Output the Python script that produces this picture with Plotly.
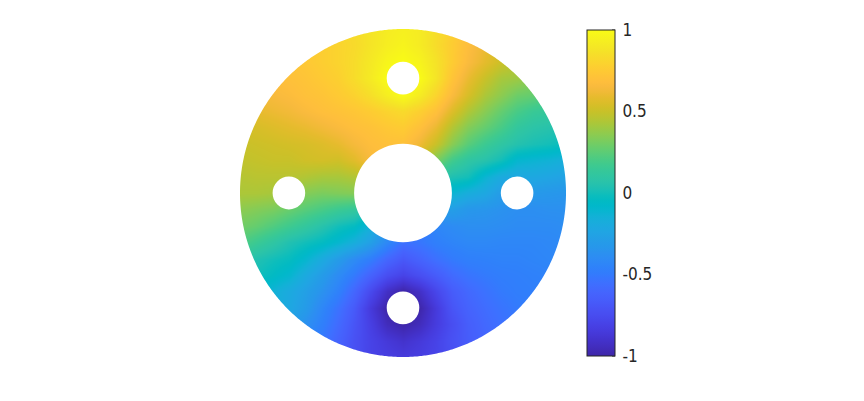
import numpy as np
import plotly.graph_objects as go

# ---- data: field values sampled on a regular grid (rows listed from y=+1 down to y=-1)
X_GRID = [round(-1.0 + 0.1 * i, 1) for i in range(21)]
Y_GRID_TOP_DOWN = [round(1.0 - 0.1 * j, 1) for j in range(21)]

FIELD_ROWS_TOP_DOWN = [
    [0.70, 0.71, 0.73, 0.74, 0.76, 0.78, 0.81, 0.84, 0.88, 0.92, 0.94, 0.92, 0.85, 0.78, 0.70, 0.64, 0.59, 0.54, 0.50, 0.46, 0.42],
    [0.68, 0.70, 0.71, 0.73, 0.75, 0.77, 0.80, 0.83, 0.88, 0.93, 0.96, 0.92, 0.84, 0.76, 0.68, 0.61, 0.55, 0.50, 0.46, 0.42, 0.38],
    [0.66, 0.68, 0.70, 0.72, 0.74, 0.77, 0.80, 0.84, 0.90, 0.97, 1.00, 0.96, 0.87, 0.76, 0.66, 0.58, 0.51, 0.46, 0.42, 0.36, 0.30],
    [0.63, 0.65, 0.68, 0.70, 0.72, 0.75, 0.78, 0.84, 0.91, 1.00, 1.00, 1.00, 0.88, 0.72, 0.60, 0.50, 0.42, 0.40, 0.35, 0.30, 0.25],
    [0.61, 0.63, 0.65, 0.67, 0.70, 0.72, 0.75, 0.79, 0.85, 0.93, 1.00, 0.92, 0.80, 0.66, 0.54, 0.43, 0.36, 0.29, 0.27, 0.21, 0.17],
    [0.57, 0.59, 0.61, 0.63, 0.66, 0.69, 0.71, 0.73, 0.76, 0.80, 0.83, 0.78, 0.70, 0.56, 0.44, 0.35, 0.27, 0.20, 0.15, 0.13, 0.10],
    [0.53, 0.54, 0.56, 0.58, 0.60, 0.63, 0.66, 0.69, 0.71, 0.74, 0.76, 0.70, 0.60, 0.45, 0.34, 0.27, 0.20, 0.12, 0.08, 0.06, 0.03],
    [0.50, 0.51, 0.52, 0.53, 0.54, 0.56, 0.59, 0.64, 0.68, 0.70, 0.70, 0.62, 0.50, 0.35, 0.24, 0.16, 0.10, 0.05, 0.02, 0.00, -0.03],
    [0.48, 0.49, 0.50, 0.50, 0.52, 0.53, 0.52, 0.57, 0.65, 0.70, 0.70, 0.55, 0.32, 0.18, 0.10, 0.06, 0.00, -0.10, -0.12, -0.14, -0.17],
    [0.45, 0.46, 0.46, 0.46, 0.44, 0.42, 0.42, 0.44, 0.50, 0.62, 0.60, 0.30, 0.10, 0.03, 0.00, -0.12, -0.20, -0.22, -0.22, -0.24, -0.26],
    [0.43, 0.43, 0.42, 0.40, 0.34, 0.32, 0.33, 0.34, 0.35, 0.35, 0.10, -0.15, -0.15, -0.12, -0.18, -0.22, -0.30, -0.32, -0.32, -0.33, -0.34],
    [0.36, 0.34, 0.32, 0.28, 0.24, 0.20, 0.16, 0.13, 0.05, -0.10, -0.55, -0.42, -0.32, -0.28, -0.33, -0.34, -0.36, -0.38, -0.38, -0.37, -0.37],
    [0.30, 0.27, 0.22, 0.17, 0.12, 0.06, 0.00, -0.04, -0.15, -0.35, -0.55, -0.50, -0.43, -0.40, -0.38, -0.38, -0.39, -0.40, -0.40, -0.40, -0.39],
    [0.22, 0.16, 0.10, 0.04, 0.00, -0.04, -0.10, -0.17, -0.27, -0.42, -0.55, -0.52, -0.47, -0.44, -0.42, -0.42, -0.43, -0.43, -0.43, -0.42, -0.41],
    [0.10, 0.04, 0.00, -0.03, -0.10, -0.20, -0.30, -0.40, -0.48, -0.60, -0.68, -0.62, -0.55, -0.50, -0.47, -0.46, -0.45, -0.45, -0.44, -0.43, -0.43],
    [0.03, 0.00, -0.05, -0.10, -0.20, -0.30, -0.40, -0.50, -0.62, -0.74, -0.80, -0.74, -0.66, -0.58, -0.53, -0.50, -0.48, -0.47, -0.46, -0.45, -0.45],
    [-0.06, -0.10, -0.14, -0.20, -0.27, -0.36, -0.46, -0.60, -0.76, -0.92, -1.00, -0.92, -0.78, -0.66, -0.59, -0.54, -0.50, -0.48, -0.47, -0.46, -0.45],
    [-0.09, -0.12, -0.16, -0.22, -0.30, -0.43, -0.54, -0.67, -0.85, -1.00, -1.00, -1.00, -0.85, -0.70, -0.62, -0.57, -0.53, -0.50, -0.49, -0.48, -0.47],
    [-0.11, -0.15, -0.20, -0.28, -0.37, -0.47, -0.58, -0.70, -0.82, -0.95, -1.00, -0.95, -0.84, -0.74, -0.65, -0.59, -0.55, -0.52, -0.50, -0.49, -0.48],
    [-0.15, -0.20, -0.27, -0.35, -0.43, -0.52, -0.62, -0.72, -0.80, -0.86, -0.90, -0.86, -0.80, -0.72, -0.66, -0.61, -0.58, -0.55, -0.52, -0.50, -0.49],
    [-0.20, -0.26, -0.33, -0.40, -0.48, -0.56, -0.64, -0.73, -0.80, -0.83, -0.85, -0.83, -0.79, -0.74, -0.69, -0.64, -0.60, -0.57, -0.55, -0.52, -0.50],
]

CBAR_TICK_VALUES = [-1, -0.5, 0, 0.5, 1]
CBAR_TICK_LABELS = ["-1", "-0.5", "0", "0.5", "1"]

# ---- geometry of the domain (unit disk with holes)
OUTER_R = 1.0
CENTER_HOLE_R = 0.3
SMALL_HOLE_R = 0.1
SMALL_HOLE_CENTERS = [(0.0, 0.7), (0.0, -0.7), (-0.7, 0.0), (0.7, 0.0)]

# ---- parula colormap (style)
PARULA = [
    (0.2422, 0.1504, 0.6603), (0.2504, 0.1650, 0.7076), (0.2578, 0.1818, 0.7511), (0.2647, 0.1978, 0.7952),
    (0.2706, 0.2147, 0.8364), (0.2751, 0.2342, 0.8710), (0.2783, 0.2559, 0.8991), (0.2803, 0.2782, 0.9221),
    (0.2813, 0.3006, 0.9414), (0.2810, 0.3228, 0.9579), (0.2795, 0.3447, 0.9717), (0.2760, 0.3667, 0.9829),
    (0.2699, 0.3892, 0.9906), (0.2602, 0.4123, 0.9952), (0.2440, 0.4358, 0.9988), (0.2206, 0.4603, 0.9973),
    (0.1963, 0.4847, 0.9892), (0.1834, 0.5074, 0.9798), (0.1786, 0.5289, 0.9682), (0.1764, 0.5499, 0.9520),
    (0.1687, 0.5703, 0.9359), (0.1540, 0.5902, 0.9218), (0.1460, 0.6091, 0.9079), (0.1380, 0.6276, 0.8973),
    (0.1248, 0.6459, 0.8883), (0.1113, 0.6635, 0.8763), (0.0952, 0.6798, 0.8598), (0.0689, 0.6948, 0.8394),
    (0.0297, 0.7082, 0.8163), (0.0036, 0.7203, 0.7917), (0.0067, 0.7312, 0.7660), (0.0433, 0.7411, 0.7394),
    (0.0964, 0.7500, 0.7120), (0.1408, 0.7584, 0.6842), (0.1717, 0.7670, 0.6554), (0.1938, 0.7758, 0.6251),
    (0.2161, 0.7843, 0.5923), (0.2470, 0.7918, 0.5567), (0.2906, 0.7973, 0.5188), (0.3406, 0.8008, 0.4789),
    (0.3909, 0.8029, 0.4354), (0.4456, 0.8024, 0.3909), (0.5044, 0.7993, 0.3480), (0.5616, 0.7942, 0.3045),
    (0.6174, 0.7876, 0.2612), (0.6720, 0.7793, 0.2227), (0.7242, 0.7698, 0.1910), (0.7738, 0.7598, 0.1646),
    (0.8203, 0.7498, 0.1535), (0.8634, 0.7406, 0.1596), (0.9035, 0.7330, 0.1774), (0.9393, 0.7288, 0.2100),
    (0.9728, 0.7298, 0.2394), (0.9956, 0.7434, 0.2371), (0.9970, 0.7659, 0.2199), (0.9952, 0.7893, 0.2028),
    (0.9892, 0.8136, 0.1885), (0.9786, 0.8386, 0.1766), (0.9676, 0.8639, 0.1643), (0.9610, 0.8890, 0.1537),
    (0.9597, 0.9135, 0.1423), (0.9628, 0.9373, 0.1265), (0.9691, 0.9606, 0.1064), (0.9769, 0.9839, 0.0805),
]
n = len(PARULA)
colorscale = [[i / (n - 1), "rgb(%d,%d,%d)" % tuple(round(c * 255) for c in col)] for i, col in enumerate(PARULA)]

z = FIELD_ROWS_TOP_DOWN[::-1]
y_vals = Y_GRID_TOP_DOWN[::-1]

# page offset of the figure inside the browser window (default body margin)
OFF = 8
PLOT_L, PLOT_R, PLOT_T, PLOT_B = 240 - OFF, 566 - OFF, 29 - OFF, 357 - OFF
W, H = 864, 401
plot_w = PLOT_R - PLOT_L
plot_h = PLOT_B - PLOT_T
CB_LEFT = 587 - OFF
CB_THICK = 28
CB_LEN_FRAC = 326 / 328
TEXT_COLOR = "#262626"

fig = go.Figure()
fig.add_trace(go.Heatmap(
    x=X_GRID, y=y_vals, z=z,
    zmin=-1, zmax=1, zsmooth="best",
    colorscale=colorscale,
    hoverinfo="skip",
    colorbar=dict(
        xref="paper", x=(CB_LEFT - PLOT_L) / plot_w, xanchor="left",
        yref="paper", y=0.5, yanchor="middle",
        thickness=CB_THICK, thicknessmode="pixels",
        len=CB_LEN_FRAC, lenmode="fraction",
        xpad=0, ypad=0,
        outlinecolor=TEXT_COLOR, outlinewidth=1,
        tickmode="array", tickvals=CBAR_TICK_VALUES, ticktext=CBAR_TICK_LABELS,
        ticks="outside", ticklen=4, tickwidth=1, tickcolor="rgba(0,0,0,0)",
        tickfont=dict(family="DejaVu Sans Condensed, Liberation Sans, sans-serif", size=17, color=TEXT_COLOR),
    ),
))

# white mask outside the outer circle (square with circular hole)
t = np.linspace(0, 2 * np.pi, 721)
cx = OUTER_R * np.cos(t)
cy = OUTER_R * np.sin(t)
big = 1.5
path = f"M {-big},{-big} L {-big},{big} L {big},{big} L {big},{-big} Z M " + \
       " L ".join(f"{a:.5f},{b:.5f}" for a, b in zip(cx, cy)) + " Z"
shapes = [dict(type="path", path=path, xref="x", yref="y", fillcolor="white",
               line=dict(width=0), layer="above", fillrule="evenodd")]

holes = [((0.0, 0.0), CENTER_HOLE_R)] + [(c, SMALL_HOLE_R) for c in SMALL_HOLE_CENTERS]
for (hx, hy), hr in holes:
    shapes.append(dict(type="circle", xref="x", yref="y",
                       x0=hx - hr, x1=hx + hr, y0=hy - hr, y1=hy + hr,
                       fillcolor="white", line=dict(width=0), layer="above"))

# small inward tick marks on the right edge of the colour bar
cb_right = (CB_LEFT + CB_THICK - PLOT_L) / plot_w
tick_in = 3 / plot_w
for v in CBAR_TICK_VALUES:
    yp = 0.5 + (v / 2.0) * CB_LEN_FRAC
    shapes.append(dict(type="line", xref="paper", yref="paper",
                       x0=cb_right - tick_in, x1=cb_right, y0=yp, y1=yp,
                       line=dict(color=TEXT_COLOR, width=1), layer="above"))

fig.update_layout(
    width=W, height=H,
    margin=dict(l=PLOT_L, r=W - PLOT_R, t=PLOT_T, b=H - PLOT_B, autoexpand=False),
    paper_bgcolor="white", plot_bgcolor="white",
    xaxis=dict(range=[-1, 1], visible=False, fixedrange=True),
    yaxis=dict(range=[-1, 1], visible=False, fixedrange=True),
    shapes=shapes,
    showlegend=False,
)

fig.write_html("out.html")
